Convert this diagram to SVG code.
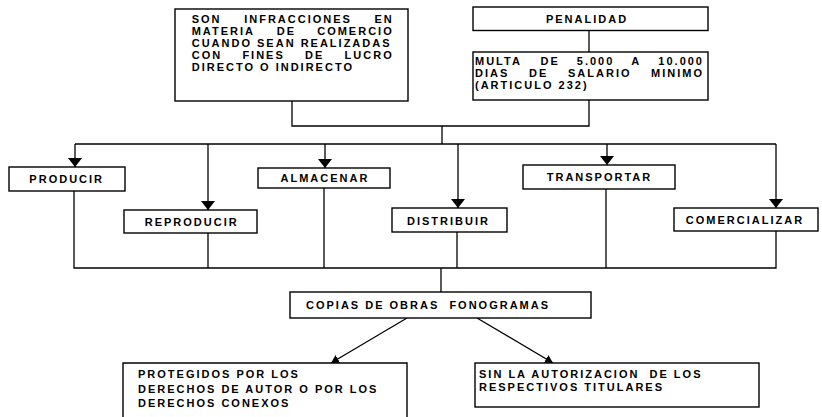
<svg xmlns="http://www.w3.org/2000/svg" width="822" height="417" viewBox="0 0 822 417">
<defs>
<style>
.box{fill:#fff;stroke:#000;stroke-width:1.4}
.ln{fill:none;stroke:#000;stroke-width:1.3}
.t{font-family:"Liberation Sans",Arial,Helvetica,sans-serif;font-size:11px;font-weight:bold;letter-spacing:2px;fill:#000}
.e{text-anchor:end}
.m{text-anchor:middle}
</style>
<marker id="ah" markerUnits="userSpaceOnUse" viewBox="0 0 9 14" refX="9" refY="7" markerWidth="9" markerHeight="14" orient="auto">
<path d="M0,0 L9,7 L0,14 z" fill="#000"/>
</marker>
<marker id="ah2" markerUnits="userSpaceOnUse" viewBox="0 0 8 9" refX="8" refY="4.5" markerWidth="8" markerHeight="9" orient="auto">
<path d="M0,0 L8,4.5 L0,9 z" fill="#000"/>
</marker>
</defs>
<rect width="822" height="417" fill="#fff"/>

<g id="connectors">
<path class="ln" d="M292,101 V126 H589 V100"/>
<path class="ln" d="M589,30.5 V52"/>
<path class="ln" d="M442,126 V144"/>
<path class="ln" d="M75,144 H776"/>
<path class="ln" d="M75,144 V167" marker-end="url(#ah)"/>
<path class="ln" d="M208,144 V210" marker-end="url(#ah)"/>
<path class="ln" d="M325,144 V168" marker-end="url(#ah)"/>
<path class="ln" d="M458,144 V208" marker-end="url(#ah)"/>
<path class="ln" d="M607,144 V165" marker-end="url(#ah)"/>
<path class="ln" d="M776,144 V208" marker-end="url(#ah)"/>
<path class="ln" d="M74,191 V268 H776 V231"/>
<path class="ln" d="M208,233 V268"/>
<path class="ln" d="M324,188 V268"/>
<path class="ln" d="M457,232 V268"/>
<path class="ln" d="M606,189 V268"/>
<path class="ln" d="M441,268 V292"/>
<path class="ln" d="M407,318 L331,363" marker-end="url(#ah2)"/>
<path class="ln" d="M477,318 L553,363" marker-end="url(#ah2)"/>
</g>

<g id="node-infracciones">
<rect class="box" x="175" y="9" width="233" height="92"/>
<text class="t" x="191.7" y="22.5">SON</text>
<text class="t" x="244.2" y="22.5">INFRACCIONES</text>
<text class="t e" x="393.7" y="22.5">EN</text>
<text class="t" x="191.7" y="34.5">MATERIA</text>
<text class="t" x="276.8" y="34.5">DE</text>
<text class="t e" x="393.7" y="34.5">COMERCIO</text>
<text class="t" x="191.7" y="46.5">CUANDO SEAN REALIZADAS</text>
<text class="t" x="191.7" y="58.5">CON</text>
<text class="t" x="242.4" y="58.5">FINES</text>
<text class="t" x="305.1" y="58.5">DE</text>
<text class="t e" x="393.7" y="58.5">LUCRO</text>
<text class="t" x="191.7" y="70.5">DIRECTO O INDIRECTO</text>
</g>

<g id="node-penalidad">
<rect class="box" x="473" y="7" width="235" height="23.5"/>
<text class="t m" x="587" y="22.5">PENALIDAD</text>
</g>

<g id="node-multa">
<rect class="box" x="473" y="52" width="235" height="48"/>
<text class="t" x="475" y="65">MULTA</text>
<text class="t" x="540.5" y="65">DE</text>
<text class="t" x="576.8" y="65">5.000</text>
<text class="t" x="631.3" y="65">A</text>
<text class="t e" x="704" y="65">10.000</text>
<text class="t" x="475" y="77">DIAS</text>
<text class="t" x="529" y="77">DE</text>
<text class="t" x="568" y="77">SALARIO</text>
<text class="t e" x="704" y="77">MINIMO</text>
<text class="t" x="475" y="89">(ARTICULO 232)</text>
</g>

<g id="node-producir">
<rect class="box" x="9" y="167" width="116" height="24"/>
<text class="t m" x="66.7" y="183">PRODUCIR</text>
</g>
<g id="node-reproducir">
<rect class="box" x="124" y="210" width="133" height="23"/>
<text class="t m" x="191.7" y="225.5">REPRODUCIR</text>
</g>
<g id="node-almacenar">
<rect class="box" x="258" y="168" width="132" height="20"/>
<text class="t m" x="325" y="182">ALMACENAR</text>
</g>
<g id="node-distribuir">
<rect class="box" x="392" y="208" width="115" height="24"/>
<text class="t m" x="448.5" y="224.5">DISTRIBUIR</text>
</g>
<g id="node-transportar">
<rect class="box" x="523" y="165" width="152" height="24"/>
<text class="t m" x="599.5" y="181">TRANSPORTAR</text>
</g>
<g id="node-comercializar">
<rect class="box" x="674" y="208" width="144" height="23"/>
<text class="t m" x="745" y="224">COMERCIALIZAR</text>
</g>

<g id="node-copias">
<rect class="box" x="290" y="292" width="301" height="26"/>
<text class="t" x="306" y="308.5" xml:space="preserve">COPIAS DE OBRAS  FONOGRAMAS</text>
</g>

<g id="node-protegidos">
<path class="box" d="M123,425 V363 H407 V425"/>
<text class="t" x="138" y="378">PROTEGIDOS POR LOS</text>
<text class="t" x="138" y="392.5">DERECHOS DE AUTOR O POR LOS</text>
<text class="t" x="138" y="407">DERECHOS CONEXOS</text>
</g>

<g id="node-autorizacion">
<rect class="box" x="475" y="363" width="284" height="44"/>
<text class="t" x="479" y="377.5" xml:space="preserve">SIN LA AUTORIZACION  DE LOS</text>
<text class="t" x="479" y="391">RESPECTIVOS TITULARES</text>
</g>
</svg>
